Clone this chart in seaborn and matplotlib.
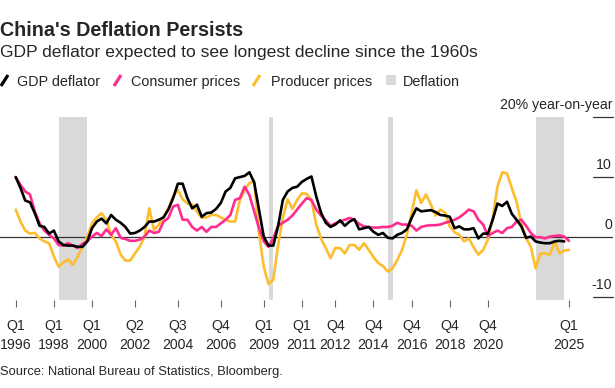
import numpy as np
import matplotlib
matplotlib.use("Agg")
import matplotlib.pyplot as plt
import seaborn as sns
from matplotlib.lines import Line2D
from matplotlib.patches import Rectangle

# квартальные значения, индекс 0 = Q1 1996
gdp_deflator = [
    10.0, 8.2, 6.1, 5.8, 4.0, 1.9, 1.7, 0.6, 1.1, -0.7, -1.3, -1.4, -1.4, -1.6, -1.6, -0.7,
    1.5, 2.6, 3.1, 2.3, 3.7, 2.9, 2.4, 1.7, 0.6, 0.7, 1.1, 1.7, 2.6, 2.6,
    2.9, 3.3, 4.6, 6.5, 8.9, 8.9, 6.5, 4.8, 5.4, 3.4, 4.0, 4.1, 4.7, 5.7, 7.6, 8.2,
    9.8, 10.0, 10.2, 10.8, 9.1, 4.6, 0.1, -1.4, -1.4, 1.8, 6.2, 7.6, 8.2,
    8.4, 9.2, 9.7, 10.1, 6.8, 4.1, 2.4, 1.7, 2.1, 2.8, 1.9, 2.6, 3.0, 1.3, 1.5, 1.7,
    0.9, 0.4, 0.7, -0.1, -0.2, 0.4, 0.7, 1.3, 3.2, 4.8, 4.3, 4.4,
    4.5, 4.2, 3.7, 3.6, 3.4, 1.5, 1.8, 1.3, 1.3, 1.5, -0.2, 0.6, 0.6, 2.9, 5.6, 5.2, 5.9,
    3.9, 2.9, 1.8, -0.1, 0.1, -0.7, -0.9, -1.0, -1.0, -0.7, -0.6, -0.7,
]
consumer_prices = [
    10.0, 8.7, 7.6, 7.1, 4.3, 2.3, 1.1, 0.4, -0.2, -1.3, -1.4, -1.0, -1.4, -1.8, -1.1, -0.7,
    0.1, 0.7, 0.2, 1.3, 0.4, 1.5, -0.1, -0.3, -0.6, -0.6, -0.4, 0.1, 1.1, 0.7,
    0.9, 2.6, 3.2, 5.1, 5.4, 2.9, 2.9, 1.7, 1.1, 1.7, 0.9, 1.7, 1.7, 2.3, 2.9, 3.7,
    6.2, 6.5, 8.4, 7.0, 4.3, 1.5, -0.7, -1.6, -0.2, 1.9, 2.4, 2.9, 3.6,
    4.6, 5.6, 6.5, 6.2, 4.6, 3.6, 2.8, 1.9, 2.3, 2.6, 2.9, 3.2, 2.9, 2.2, 1.8, 1.7,
    1.6, 1.6, 1.7, 1.7, 1.9, 2.4, 2.1, 2.1, 1.9, 1.1, 1.7, 1.9,
    2.0, 2.0, 2.1, 2.4, 2.6, 2.9, 3.3, 3.9, 4.6, 4.3, 2.9, 2.1, 0.2, 0.7, 1.1, 0.7,
    1.5, 1.7, 2.6, 2.9, 1.9, 0.7, 0.0, 0.0, -0.2, 0.1, 0.2, 0.3, 0.1, -0.6,
]
producer_prices = [
    4.6, 2.6, 1.1, 0.6, 0.7, -0.2, -0.7, -1.0, -3.2, -4.9, -4.2, -3.7, -4.6, -3.2, -1.6, 0.1,
    2.3, 3.3, 4.0, 2.9, 0.4, -0.7, -2.9, -3.9, -3.9, -2.7, -1.6, 0.1, 4.8, 1.2,
    2.1, 3.4, 4.8, 6.8, 7.9, 6.3, 5.6, 5.4, 4.3, 3.2, 3.3, 3.7, 3.7, 3.3, 2.9, 2.6,
    2.6, 6.2, 7.9, 9.0, 9.3, 0.7, -4.9, -7.8, -7.1, -1.4, 3.2, 6.3, 4.7,
    6.2, 7.3, 7.2, 6.2, 2.1, -0.2, -1.8, -3.5, -1.8, -1.8, -2.7, -1.3, -1.3, -2.1, -1.0, -2.1,
    -3.3, -4.3, -4.8, -5.7, -5.2, -3.8, -2.1, 0.4, 4.0, 7.8, 5.7, 7.1,
    5.5, 3.6, 4.6, 4.1, 1.8, 0.8, 0.4, -0.7, -0.2, -1.7, -2.9, -2.1, -0.4, 3.2, 8.4, 10.8,
    10.6, 8.2, 5.9, 2.3, -0.2, -1.6, -5.2, -2.7, -2.7, -2.9, -0.7, -2.7, -2.2, -2.1,
]

# периоды дефляции (индексы кварталов, начало и конец)
deflation_periods = [(9, 15), (53, 54), (78, 79), (109, 115)]

tick_quarters = [0, 8, 16, 25, 34, 43, 52, 60, 67, 75, 83, 91, 99, 116]
tick_labels = ["Q1\n1996", "Q1\n1998", "Q1\n2000", "Q2\n2002", "Q3\n2004", "Q4\n2006",
               "Q1\n2009", "Q1\n2011", "Q4\n2012", "Q4\n2014", "Q4\n2016", "Q4\n2018",
               "Q4\n2020", "Q1\n2025"]
y_levels = [20, 10, 0, -10]
y_labels = ["20% year-on-year", "10", "0", "-10"]

series = [
    ("Producer prices", producer_prices, "#fdbd2f"),
    ("Consumer prices", consumer_prices, "#ff2c8e"),
    ("GDP deflator", gdp_deflator, "#000000"),
]

sns.set_style("white")
plt.rcParams["font.family"] = ["Liberation Sans", "DejaVu Sans"]

W, H = 615, 388
fig = plt.figure(figsize=(W / 100, H / 100), dpi=100)
ax = fig.add_axes([0, (H - 300) / H, 613 / W, 183 / H])

for lo, hi in deflation_periods:
    ax.axvspan(lo, hi, color="#d9d9d9", lw=0, zorder=0)

ax.axhline(0, color="#333333", lw=0.9, zorder=1.5)

for name, vals, col in series:
    sns.lineplot(x=np.arange(len(vals)), y=vals, color=col, lw=1.9, ax=ax, zorder=2)

ax.set_xlim(-15.7 / 4.77, (613 - 15.7) / 4.77)
ax.set_ylim(-10.45, 20)

for v, lab in zip(y_levels, y_labels):
    if v != 0:
        ax.axhline(v, xmin=593 / 613, xmax=1, color="#333333", lw=0.9, clip_on=False)
    ax.annotate(lab, xy=(612 / 613, v), xycoords=("axes fraction", "data"),
                xytext=(0, 6), textcoords="offset points",
                ha="right", va="baseline", fontsize=10.2)

ax.set_yticks([])
ax.set_xticks(tick_quarters)
ax.set_xticklabels(tick_labels, fontsize=10.2, linespacing=1.45)
ax.tick_params(axis="x", length=5, width=0.8, color="#666666", pad=9, bottom=True)
for s in ax.spines.values():
    s.set_visible(False)

# заголовки
fig.text(0.0, (H - 36) / H, "China's Deflation Persists", fontsize=14.2,
         fontweight="bold", va="baseline")
fig.text(0.0, (H - 56.5) / H, "GDP deflator expected to see longest decline since the 1960s",
         fontsize=12.6, va="baseline")
fig.text(0.0, (H - 375.5) / H, "Source: National Bureau of Statistics, Bloomberg.",
         fontsize=9.3, va="baseline")

# легенда вручную
legend_items = [
    ("GDP deflator", "#000000", 1, 17),
    ("Consumer prices", "#ff2c8e", 114, 131),
    ("Producer prices", "#fdbd2f", 253, 271),
]
for name, col, sx, tx in legend_items:
    fig.add_artist(Line2D([sx / W, (sx + 7) / W], [(H - 86) / H, (H - 75) / H],
                          color=col, lw=2.3, solid_capstyle="butt"))
    fig.text(tx / W, (H - 85.7) / H, name, fontsize=10.4, va="baseline")
fig.add_artist(Rectangle((386 / W, (H - 85) / H), 10 / W, 10 / H,
                         color="#d9d9d9", lw=0, transform=fig.transFigure))
fig.text(403 / W, (H - 85.7) / H, "Deflation", fontsize=10.4, va="baseline")

fig.savefig("out.png", dpi=100)
